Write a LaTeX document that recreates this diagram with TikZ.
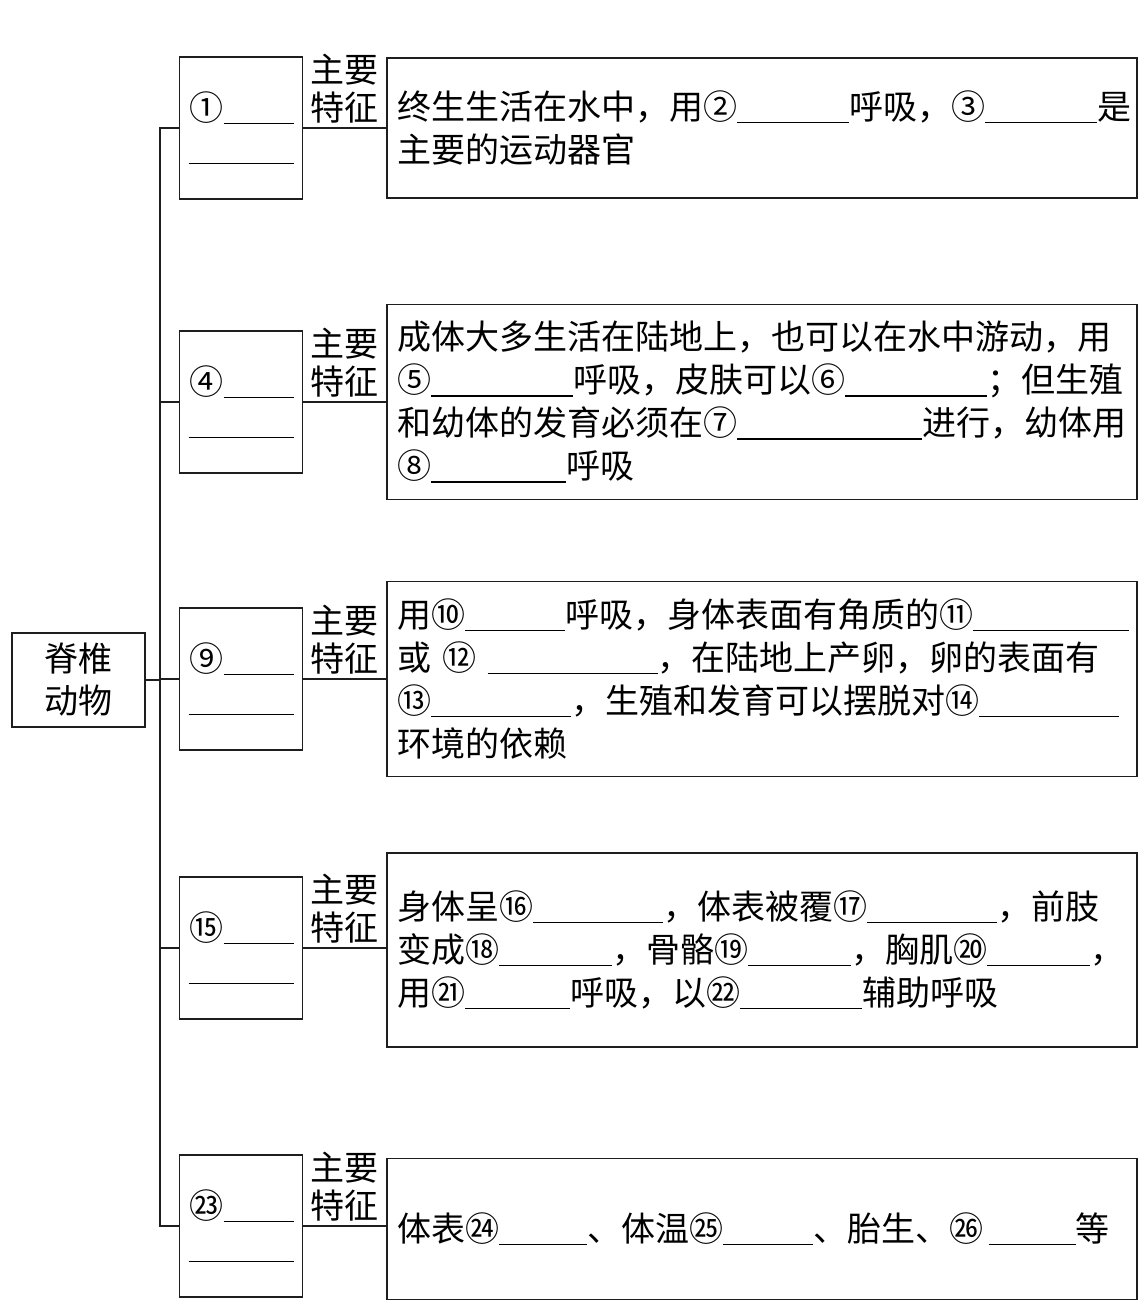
\documentclass[tikz,border=0pt]{standalone}
\usepackage{fontspec}
\setmainfont{Noto Sans CJK SC}
\usepackage{tikz}
\definecolor{inkcolor}{RGB}{30,30,30}
\newcommand{\blank}[1]{\rule[-0.11em]{#1pt}{1.2pt}}

\begin{document}
\begin{tikzpicture}[x=1pt, y=-1pt, line width=1.3pt, draw=inkcolor,
  rootbox/.style={draw, line width=1.5pt, minimum width=133pt, minimum height=94pt, align=center, font=\fontsize{34}{42}\selectfont},
  groupbox/.style={draw, line width=1.5pt, minimum width=123pt, minimum height=142pt, text width=105pt, inner xsep=9pt, align=right, font=\fontsize{34}{40}\selectfont},
  factbox/.style={draw, line width=1.5pt, text width=730pt, inner xsep=10pt, align=left, font=\fontsize{34}{43}\selectfont},
  keylabel/.style={above, inner sep=4pt, align=center, font=\fontsize{34}{38}\selectfont}]

\useasboundingbox (0,0) rectangle (1147,1304);

% Column positions
\def\trunkx{160}
\def\groupx{241}
\def\factx{762}

% Root
\node[rootbox] (root) at (78.5,680) {脊椎\\动物};

% Animal groups
\node[groupbox] (g1) at (\groupx,128) {①\blank{70}\\\blank{105}};
\node[groupbox] (g2) at (\groupx,402) {④\blank{70}\\\blank{105}};
\node[groupbox] (g3) at (\groupx,679) {⑨\blank{70}\\\blank{105}};
\node[groupbox] (g4) at (\groupx,948) {⑮\blank{70}\\\blank{105}};
\node[groupbox] (g5) at (\groupx,1226) {㉓\blank{70}\\\blank{105}};

% Main features
\node[factbox, minimum height=140pt] (f1) at (\factx,128) {终生生活在水中，用②\blank{112}呼吸，③\blank{112}是\\主要的运动器官};
\node[factbox, minimum height=195pt] (f2) at (\factx,402) {成体大多生活在陆地上，也可以在水中游动，用\\⑤\blank{142}呼吸，皮肤可以⑥\blank{142}；但生殖\\和幼体的发育必须在⑦\blank{185}进行，幼体用\\⑧\blank{135}呼吸};
\node[factbox, minimum height=195pt] (f3) at (\factx,679) {用⑩\blank{100}呼吸，身体表面有角质的⑪\blank{156}\\或 ⑫ \blank{170}，在陆地上产卵，卵的表面有\\⑬\blank{140}，生殖和发育可以摆脱对⑭\blank{140}\\环境的依赖};
\node[factbox, minimum height=194pt] (f4) at (\factx,950) {身体呈⑯\blank{130}，体表被覆⑰\blank{130}，前肢\\变成⑱\blank{113}，骨骼⑲\blank{103}，胸肌⑳\blank{103}，\\用㉑\blank{105}呼吸，以㉒\blank{122}辅助呼吸};
\node[factbox, minimum height=141pt] (f5) at (\factx,1229) {体表㉔\blank{88}、体温㉕\blank{90}、胎生、㉖\,\blank{87}等};

% Trunk and branches
\coordinate (trunk) at (\trunkx,0);
\draw (g1.west) -- (g1.west -| trunk) -- (g5.west -| trunk) -- (g5.west);
\foreach \g in {g2,g3,g4}
  \draw (\g.west -| trunk) -- (\g.west);
\draw (root.east) -- (root.east -| trunk);

% Groups to features
\foreach \i in {1,...,5}
  \draw (g\i.east) -- node[keylabel] (k\i) {主要\\特征} (g\i.east -| f\i.west);

\end{tikzpicture}
\end{document}
